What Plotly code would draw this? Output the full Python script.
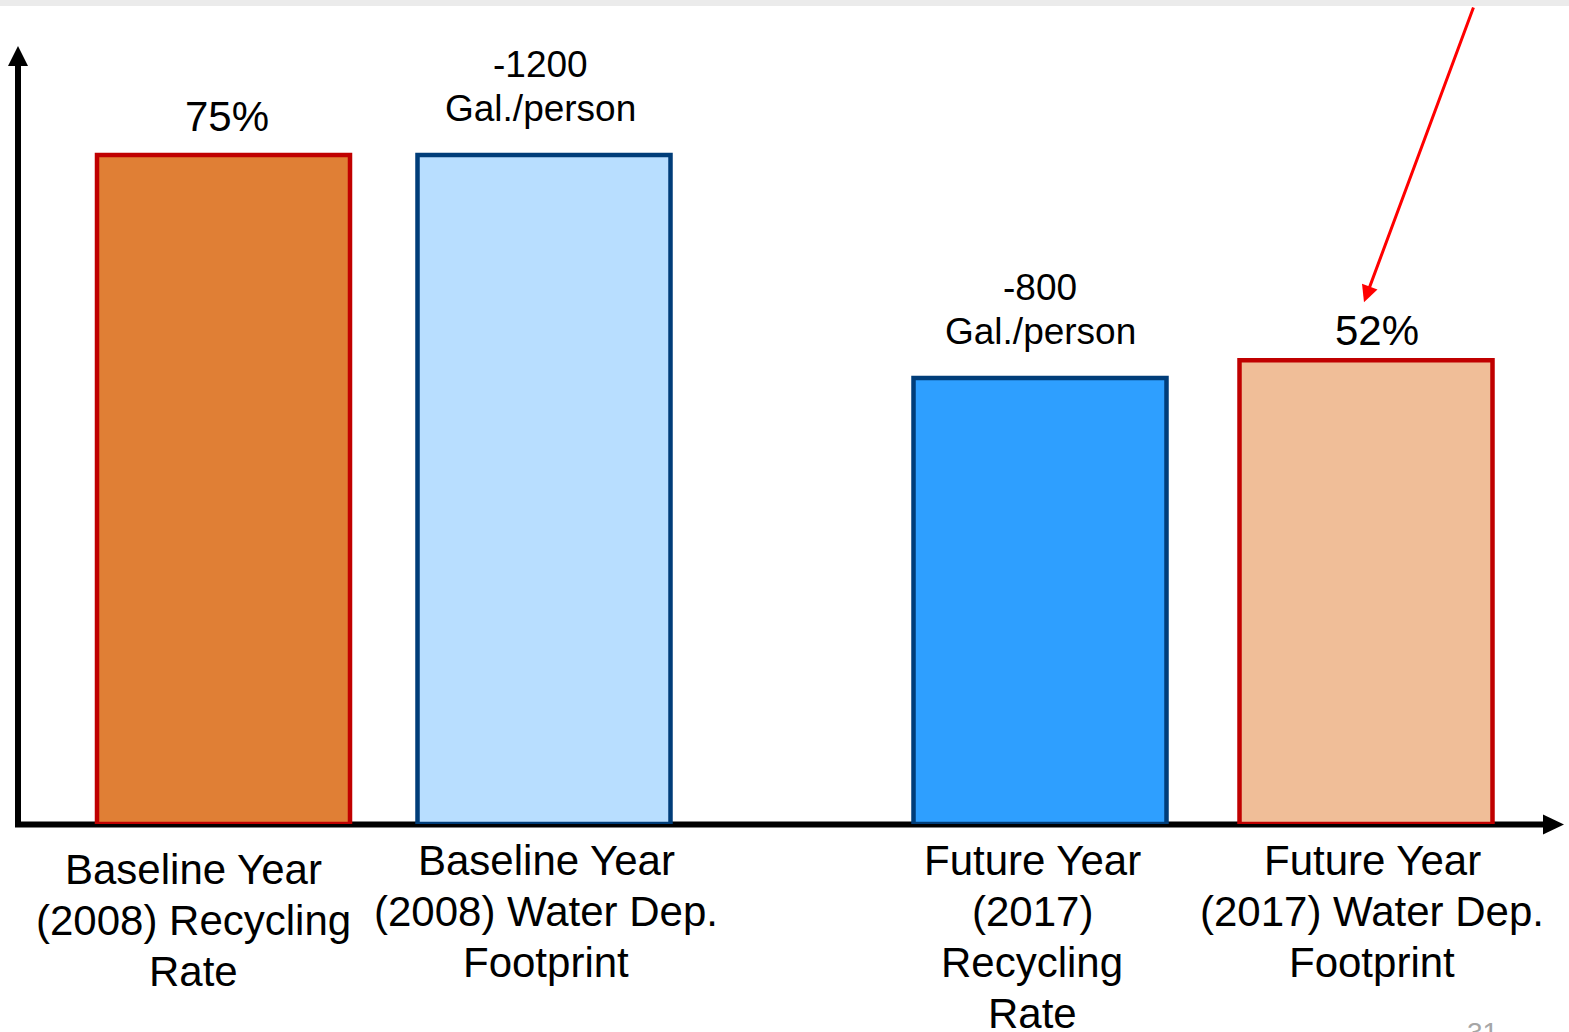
import plotly.graph_objects as go

# ---- data -------------------------------------------------------------
categories = [
    "Baseline Year<br>(2008) Recycling<br>Rate",
    "Baseline Year<br>(2008) Water Dep.<br>Footprint",
    "Future Year<br>(2017)<br>Recycling<br>Rate",
    "Future Year<br>(2017) Water Dep.<br>Footprint",
]
recycling_rate_pct = [75, 52]            # baseline 2008, future 2017
water_footprint_gal = [-1200, -800]      # gallons per person, baseline 2008, future 2017
footprint_unit = "Gal./person"

# ---- layout constants ---------------------------------------------------
W, H = 1569, 1032
PL, PR, PT, PB = 18, 1562, 48, 824        # plot area edges in page pixels
PW, PH = PR - PL, PB - PT
FONT = "Liberation Sans, Arial, sans-serif"

slot_x = [205.5, 526, 1022, 1348]         # bar centres along the x scale
bar_w = 253
gal_top = 1200 * PH / 669                 # y range of the gallons scale
pct_top = 75 * PH / 669                   # y range of the percent scale (75% level with 1200 gal)

def px_x(px):
    return (px - PL) / PW

def px_y(py):
    return (PB - py) / PH

RED = "#C00000"
NAVY = "#003D79"

fig = go.Figure()

# recycling-rate bars (percent scale)
fig.add_trace(go.Bar(
    x=[slot_x[0], slot_x[3]], y=recycling_rate_pct, width=bar_w, yaxis="y2",
    marker=dict(color=["#E07F35", "#F0BE98"], line=dict(color=RED, width=4.5)),
    hoverinfo="skip", showlegend=False,
))
# water-footprint bars (gallons scale, drawn by magnitude)
fig.add_trace(go.Bar(
    x=[slot_x[1], slot_x[2]], y=[abs(v) for v in water_footprint_gal], width=bar_w, yaxis="y",
    marker=dict(color=["#B8DEFF", "#2E9FFF"], line=dict(color=NAVY, width=4.5)),
    hoverinfo="skip", showlegend=False,
))

annotations = []
txt = dict(family=FONT, color="black")

# value labels above the bars
pct_slots = [0, 3]
pct_shift = [39, 30]
pct_dx = [3, 11]
for i, v in enumerate(recycling_rate_pct):
    annotations.append(dict(
        x=slot_x[pct_slots[i]] + pct_dx[i], y=v, xref="x", yref="y2", text=f"{v}%",
        showarrow=False, yanchor="middle", yshift=pct_shift[i], font=dict(size=42, **txt)))
gal_slots = [1, 2]
gal_dx = [-4, 0]
for i, v in enumerate(water_footprint_gal):
    for line, shift in ((str(v), 91), (footprint_unit, 47)):
        annotations.append(dict(
            x=slot_x[gal_slots[i]] + gal_dx[i], y=abs(v), xref="x", yref="y", text=line,
            showarrow=False, yanchor="middle", yshift=shift, font=dict(size=37, **txt)))

# category labels below the axis, one annotation per text line
label_dx = [-30, 2, -8, 6]
label_top = [869, 860, 860, 860]
line_gap = 51
for i, cat in enumerate(categories):
    for j, line in enumerate(cat.split("<br>")):
        annotations.append(dict(
            x=slot_x[i] + label_dx[i], y=px_y(label_top[i] + j * line_gap),
            xref="x", yref="paper", text=line, showarrow=False,
            xanchor="center", yanchor="middle", font=dict(size=42, **txt)))

# red pointer arrow onto the future recycling-rate label
bar4_top_px = PB - recycling_rate_pct[1] / pct_top * PH
tip_py = bar4_top_px - pct_shift[1] - 28
annotations.append(dict(
    x=slot_x[3], y=px_y(tip_py), xref="x", yref="paper", xshift=-2, text="",
    showarrow=True, arrowhead=2, arrowsize=1.1, arrowwidth=3, arrowcolor="#FF0000",
    axref="pixel", ayref="pixel", ax=110, ay=6 - tip_py, standoff=0,
))

# page number
annotations.append(dict(
    x=px_x(1482), y=px_y(1015), xref="paper", yref="paper", text="31",
    showarrow=False, xanchor="center", yanchor="top",
    font=dict(family=FONT, size=28, color="#A6A6A6")))

shapes = [
    # grey band along the top edge
    dict(type="rect", xref="paper", yref="paper", x0=px_x(0), x1=px_x(W),
         y0=px_y(6), y1=px_y(0), fillcolor="#EBEBEB", line=dict(width=0), layer="below"),
    # y axis line and arrowhead
    dict(type="line", xref="paper", yref="paper", x0=px_x(18), x1=px_x(18),
         y0=px_y(827), y1=px_y(62), line=dict(color="black", width=6), layer="below"),
    dict(type="path", xref="paper", yref="paper",
         path=f"M{px_x(18)},{px_y(46)} L{px_x(8)},{px_y(66)} L{px_x(28)},{px_y(66)} Z",
         fillcolor="black", line=dict(width=0)),
    # x axis line and arrowhead
    dict(type="line", xref="paper", yref="paper", x0=px_x(15), x1=px_x(1546),
         y0=px_y(824.5), y1=px_y(824.5), line=dict(color="black", width=6), layer="below"),
    dict(type="path", xref="paper", yref="paper",
         path=f"M{px_x(1564)},{px_y(824.5)} L{px_x(1543)},{px_y(814.5)} L{px_x(1543)},{px_y(834.5)} Z",
         fillcolor="black", line=dict(width=0)),
]

hidden = dict(visible=False, showgrid=False, zeroline=False, fixedrange=True)
fig.update_layout(
    width=W, height=H,
    margin=dict(l=PL, r=W - PR, t=PT, b=H - PB, pad=0),
    paper_bgcolor="white", plot_bgcolor="white",
    barmode="overlay",
    xaxis=dict(range=[0, PW], **hidden),
    yaxis=dict(range=[0, gal_top], **hidden),
    yaxis2=dict(range=[0, pct_top], overlaying="y", **hidden),
    annotations=annotations, shapes=shapes,
    showlegend=False,
)

fig.write_html("out.html", config={"displayModeBar": False})
